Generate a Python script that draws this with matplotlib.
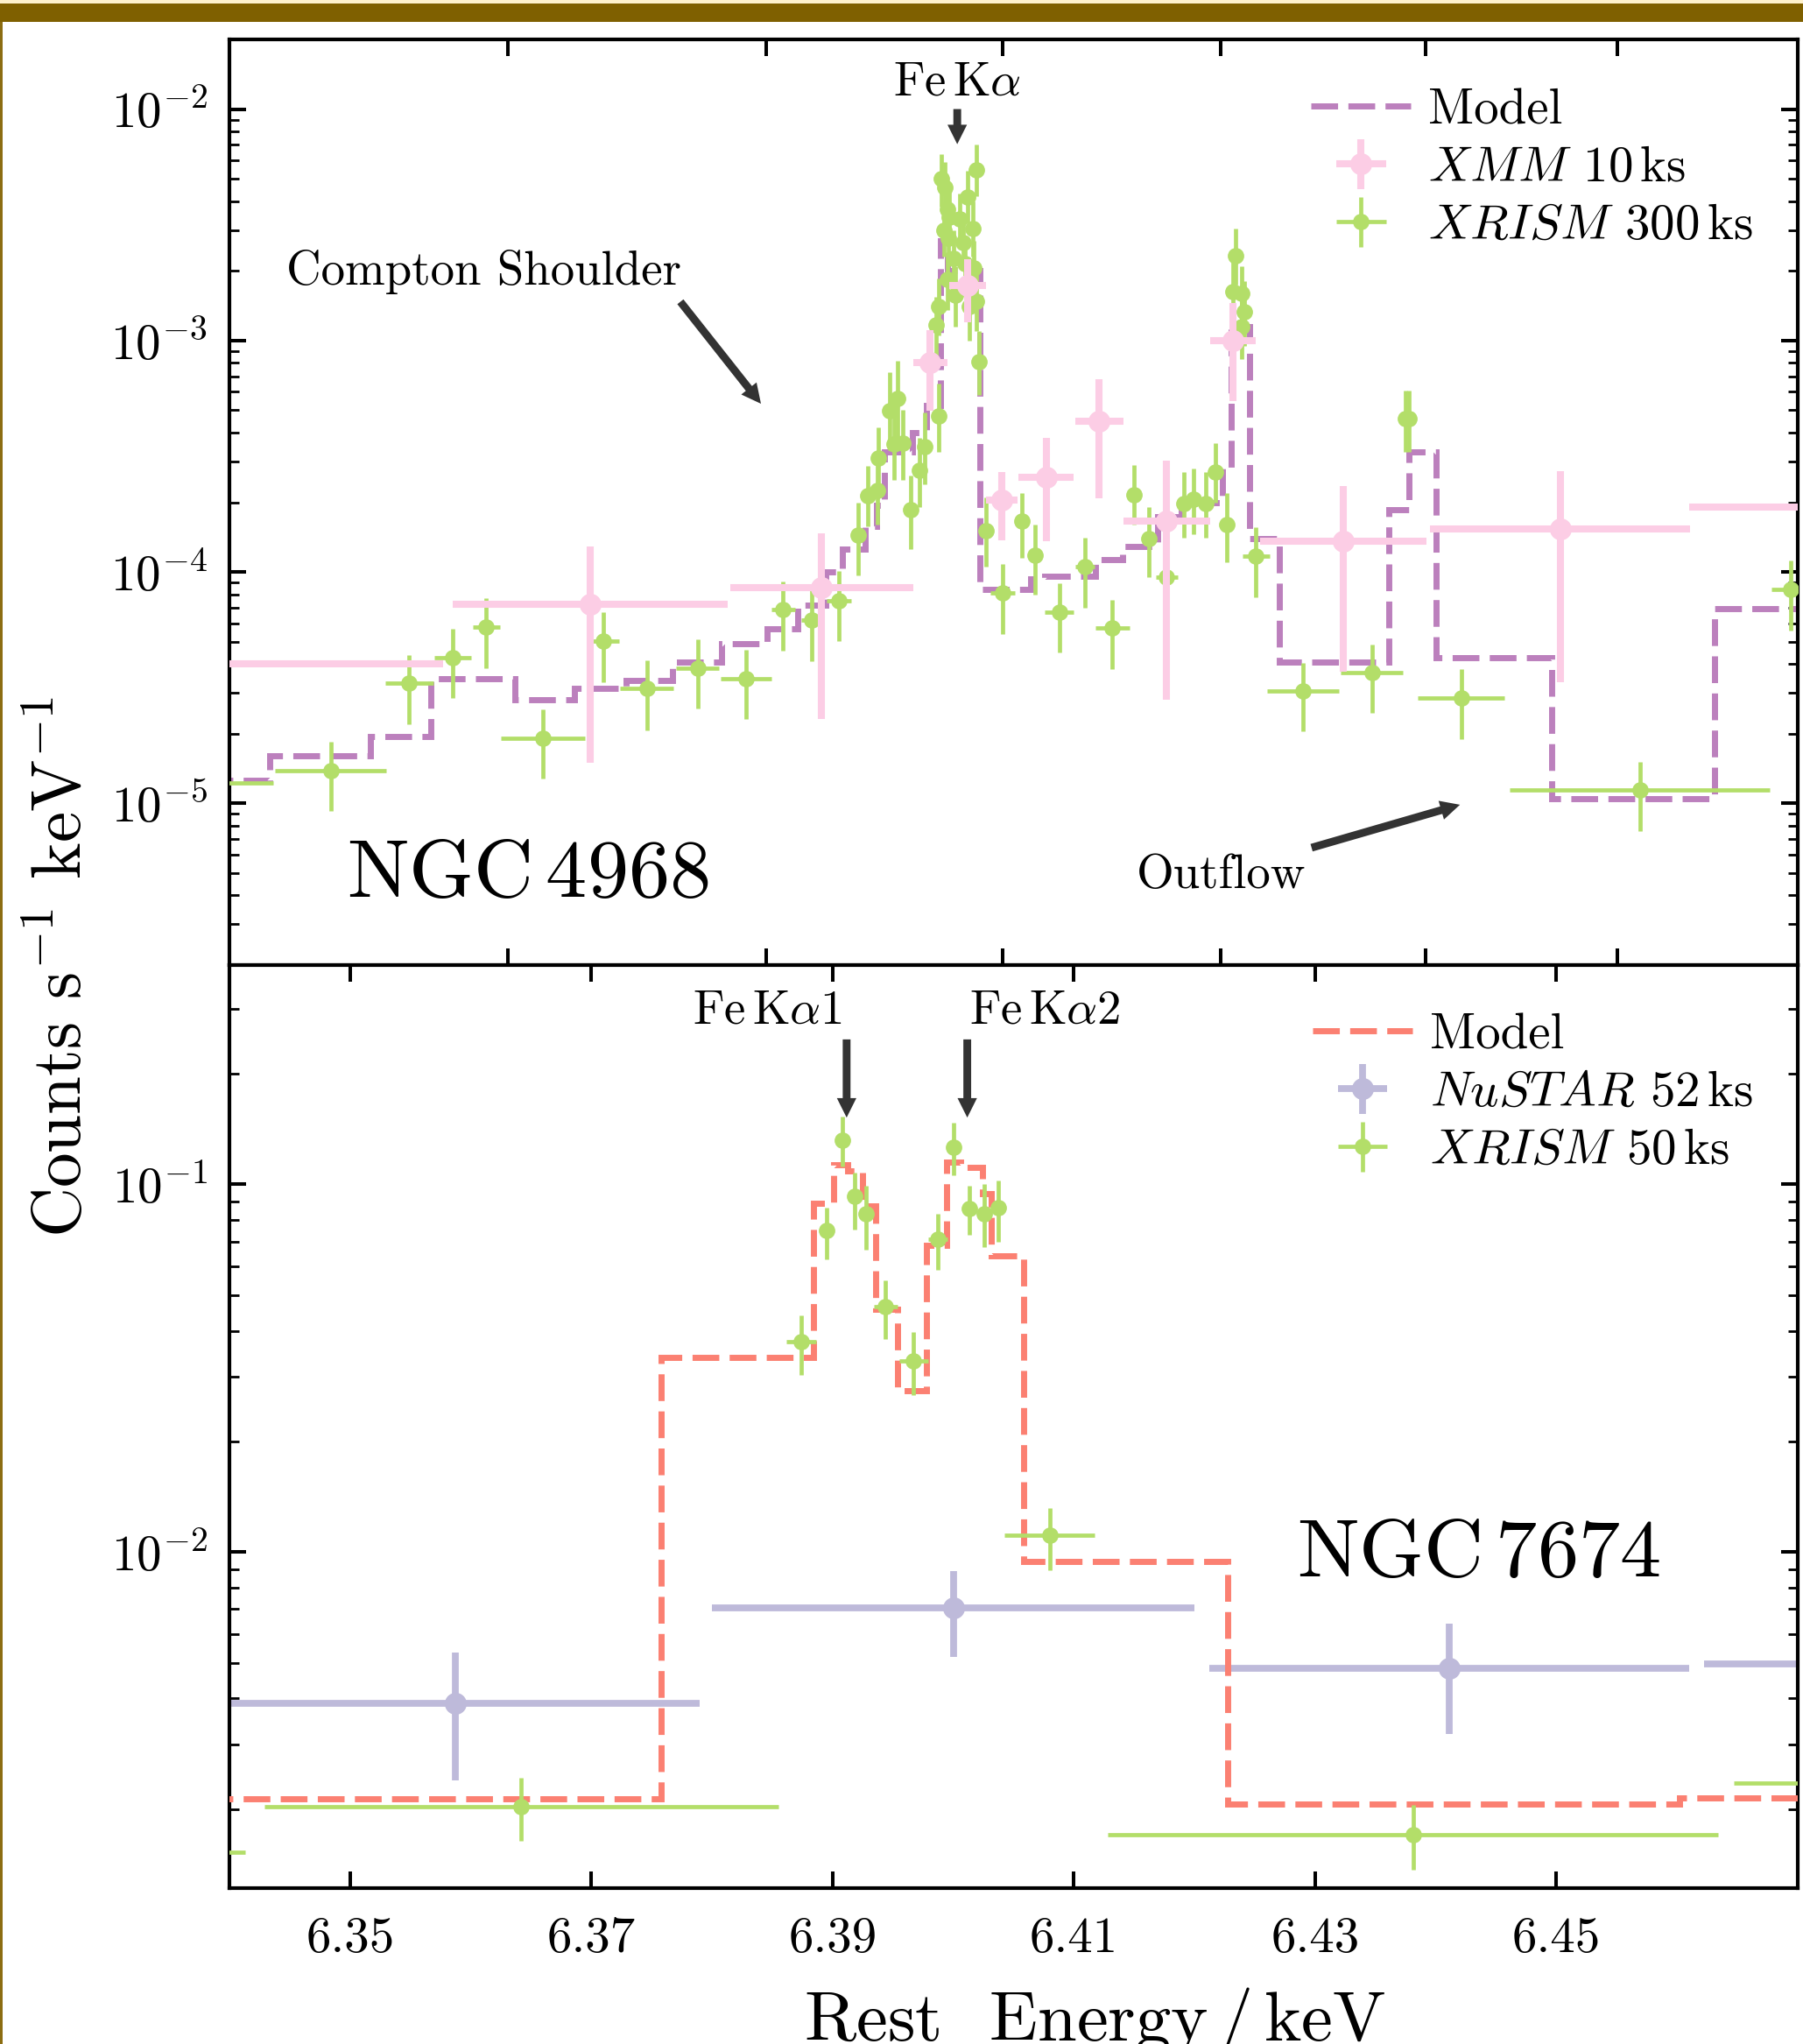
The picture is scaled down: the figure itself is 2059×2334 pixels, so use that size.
import numpy as np
import matplotlib
matplotlib.use("Agg")
import matplotlib.pyplot as plt
from matplotlib.patches import Rectangle, ArrowStyle
from matplotlib.lines import Line2D
from matplotlib.ticker import FixedLocator, FuncFormatter, NullFormatter, NullLocator, LogLocator

plt.rcParams['font.family'] = 'cmr10'
plt.rcParams['mathtext.fontset'] = 'cm'
plt.rcParams['axes.unicode_minus'] = False
plt.rcParams['axes.formatter.use_mathtext'] = True

# ---------------- data: NGC 4968 (top) ----------------
xmm_e = [6.3382, 6.3699, 6.3891, 6.3981, 6.4012, 6.4040, 6.4077, 6.4121, 6.4177, 6.4232, 6.4323, 6.4503, 6.4755]
xmm_de = [0.0195, 0.0114, 0.0076, 0.0014, 0.0015, 0.0013, 0.0023, 0.0020, 0.0036, 0.0019, 0.0069, 0.0108, 0.0145]
xmm_y = [4.0e-5, 7.24e-5, 8.55e-5, 8.0e-4, 1.73e-3, 2.04e-4, 2.57e-4, 4.46e-4, 1.66e-4, 1.0e-3, 1.36e-4, 1.53e-4, 1.91e-4]
xmm_lo = [2.0e-5, 1.5e-5, 2.32e-5, 4.96e-4, 1.2e-3, 1.37e-4, 1.36e-4, 2.08e-4, 2.8e-5, 5.47e-4, 3.72e-5, 3.33e-5, 8.0e-5]
xmm_hi = [6.5e-5, 1.29e-4, 1.47e-4, 1.11e-3, 2.25e-3, 2.71e-4, 3.81e-4, 6.78e-4, 3.03e-4, 1.45e-3, 2.34e-4, 2.73e-4, 3.0e-4]

xr4_e = [6.3390, 6.3484, 6.3549, 6.3585, 6.3613, 6.3660, 6.3710, 6.3746, 6.3788, 6.3828,
         6.3859, 6.3883, 6.3905, 6.3921, 6.3929, 6.3937, 6.3938, 6.3947, 6.3951, 6.3954,
         6.3958, 6.3965, 6.3972, 6.3976, 6.3988, 6.3986, 6.3988, 6.3990, 6.3993, 6.3995,
         6.3992, 6.3996, 6.3997, 6.4000, 6.3995, 6.4002, 6.4005, 6.4008, 6.4012, 6.4010,
         6.4013, 6.4016, 6.4017, 6.4019, 6.4019, 6.4021, 6.4027, 6.4041, 6.4057, 6.4068,
         6.4088, 6.4109, 6.4132, 6.4150, 6.4162, 6.4177, 6.4191, 6.4199, 6.4209, 6.4217,
         6.4227, 6.4232, 6.4234, 6.4239, 6.4239, 6.4241, 6.4251, 6.4290, 6.4347, 6.4375,
         6.4378, 6.4421, 6.4569, 6.4694]
xr4_de = [0.0046, 0.0046, 0.0020, 0.0015, 0.0011, 0.0035, 0.0013, 0.0022, 0.0018, 0.0021,
          0.0010, 0.0009, 0.0010, 0.0006, 0.0004, 0.0003, 0.0003, 0.0003, 0.0003, 0.0003,
          0.0003, 0.0003, 0.0003, 0.0003, 0.0003, 0.0002, 0.0002, 0.0002, 0.0002, 0.0002,
          0.0002, 0.0002, 0.0002, 0.0002, 0.0002, 0.0002, 0.0002, 0.0002, 0.0002, 0.0002,
          0.0002, 0.0002, 0.0002, 0.0002, 0.0002, 0.0002, 0.0004, 0.0010, 0.0005, 0.0005,
          0.0012, 0.0008, 0.0014, 0.0005, 0.0006, 0.0009, 0.0004, 0.0004, 0.0004, 0.0003,
          0.0004, 0.0002, 0.0002, 0.0002, 0.0002, 0.0002, 0.0011, 0.0030, 0.0026, 0.0003,
          0.0003, 0.0036, 0.0108, 0.0016]
xr4_y = [1.23e-5, 1.39e-5, 3.32e-5, 4.26e-5, 5.79e-5, 1.91e-5, 5.01e-5, 3.13e-5, 3.84e-5, 3.47e-5,
         6.87e-5, 6.18e-5, 7.52e-5, 1.44e-4, 2.14e-4, 2.25e-4, 3.11e-4, 4.96e-4, 3.56e-4, 5.6e-4,
         3.6e-4, 1.85e-4, 2.76e-4, 3.49e-4, 4.72e-4, 1.17e-3, 1.40e-3, 5.0e-3, 4.6e-3, 3.7e-3,
         3.0e-3, 2.77e-3, 3.4e-3, 2.27e-3, 1.83e-3, 1.57e-3, 3.36e-3, 2.65e-3, 4.17e-3, 2.15e-3,
         1.40e-3, 3.05e-3, 2.05e-3, 5.47e-3, 1.48e-3, 8.1e-4, 1.51e-4, 8.15e-5, 1.66e-4, 1.18e-4,
         6.7e-5, 1.05e-4, 5.71e-5, 2.16e-4, 1.39e-4, 9.53e-5, 1.97e-4, 2.06e-4, 1.97e-4, 2.71e-4,
         1.6e-4, 1.63e-3, 2.32e-3, 1.6e-3, 1.15e-3, 1.33e-3, 1.17e-4, 3.05e-5, 3.66e-5, 4.6e-4,
         4.59e-4, 2.85e-5, 1.14e-5, 8.4e-5]
xr4_lo = [8.0e-6, 9.3e-6, 2.19e-5, 2.85e-5, 3.85e-5, 1.28e-5, 3.33e-5, 2.07e-5, 2.56e-5, 2.31e-5,
          4.55e-5, 4.12e-5, 5.03e-5, 9.66e-5, 1.57e-4, 1.6e-4, 2.2e-4, 3.35e-4, 2.5e-4, 3.8e-4,
          2.5e-4, 1.25e-4, 1.9e-4, 2.4e-4, 3.3e-4, 8.5e-4, 1.05e-3, 3.8e-3, 3.5e-3, 2.8e-3,
          2.3e-3, 2.1e-3, 2.6e-3, 1.7e-3, 1.35e-3, 1.15e-3, 2.6e-3, 2.0e-3, 3.2e-3, 1.6e-3,
          1.0e-3, 2.3e-3, 1.5e-3, 4.2e-3, 1.1e-3, 5.8e-4, 1.05e-4, 5.4e-5, 1.15e-4, 8.0e-5,
          4.5e-5, 7.0e-5, 3.8e-5, 1.6e-4, 9.5e-5, 6.3e-5, 1.4e-4, 1.45e-4, 1.4e-4, 2.0e-4,
          1.1e-4, 1.2e-3, 1.75e-3, 1.15e-3, 8.3e-4, 9.5e-4, 7.8e-5, 2.05e-5, 2.45e-5, 3.3e-4,
          3.3e-4, 1.9e-5, 7.6e-6, 5.6e-5]
xr4_hi = [1.65e-5, 1.85e-5, 4.39e-5, 5.66e-5, 7.69e-5, 2.54e-5, 6.68e-5, 4.14e-5, 5.11e-5, 4.6e-5,
          9.08e-5, 8.3e-5, 1.01e-4, 1.99e-4, 2.88e-4, 3.0e-4, 4.2e-4, 7.3e-4, 4.9e-4, 8.2e-4,
          5.0e-4, 2.6e-4, 3.8e-4, 4.9e-4, 6.5e-4, 1.55e-3, 1.85e-3, 6.4e-3, 5.9e-3, 4.8e-3,
          3.9e-3, 3.6e-3, 4.4e-3, 3.0e-3, 2.4e-3, 2.1e-3, 4.3e-3, 3.5e-3, 5.4e-3, 2.8e-3,
          1.9e-3, 4.0e-3, 2.7e-3, 7.0e-3, 2.0e-3, 1.1e-3, 2.1e-4, 1.08e-4, 2.2e-4, 1.6e-4,
          8.9e-5, 1.4e-4, 7.6e-5, 2.9e-4, 1.9e-4, 1.27e-4, 2.7e-4, 2.8e-4, 2.7e-4, 3.6e-4,
          2.2e-4, 2.2e-3, 3.05e-3, 2.1e-3, 1.55e-3, 1.8e-3, 1.56e-4, 4.05e-5, 4.85e-5, 6.1e-4,
          6.1e-4, 3.8e-5, 1.51e-5, 1.12e-4]

mod4_edges = [6.335, 6.34336, 6.35170, 6.35668, 6.36365, 6.36859, 6.37291, 6.37673, 6.38079, 6.38457,
              6.38711, 6.38943, 6.39081, 6.39270, 6.39365, 6.39430, 6.39662, 6.39779, 6.39895, 6.39953,
              6.40222, 6.40643, 6.40759, 6.41180, 6.41405, 6.41696, 6.41892, 6.42233, 6.42306, 6.42458,
              6.42702, 6.43610, 6.43780, 6.44002, 6.44957, 6.46307, 6.48]
mod4_vals = [1.26e-5, 1.61e-5, 1.95e-5, 3.45e-5, 2.81e-5, 3.13e-5, 3.40e-5, 4.08e-5, 4.9e-5, 5.66e-5,
             7.2e-5, 1.0e-4, 1.26e-4, 1.57e-4, 1.94e-4, 3.3e-4, 4.0e-4, 5.26e-4, 2.7e-3, 2.0e-3,
             8.4e-5, 9.3e-5, 9.6e-5, 1.13e-4, 1.29e-4, 1.73e-4, 2.0e-4, 2.83e-4, 1.15e-3, 1.39e-4,
             4.07e-5, 1.86e-4, 3.3e-4, 4.26e-5, 1.05e-5, 6.93e-5]

# ---------------- data: NGC 7674 (bottom) ----------------
nu_e = [6.3587, 6.4000, 6.4411, 6.4822]
nu_de = [0.0203, 0.0200, 0.0199, 0.0200]
nu_y = [3.87e-3, 7.04e-3, 4.82e-3, 4.96e-3]
nu_lo = [2.40e-3, 5.18e-3, 3.21e-3, 3.3e-3]
nu_hi = [5.33e-3, 8.9e-3, 6.38e-3, 6.6e-3]

xr7_e = [6.3385, 6.3642, 6.3874, 6.3895, 6.3908, 6.3918, 6.3928, 6.3944, 6.3967, 6.3987,
         6.4000, 6.4013, 6.4026, 6.4037, 6.4080, 6.4381, 6.4715]
xr7_de = [0.0028, 0.0213, 0.0012, 0.0004, 0.0004, 0.0004, 0.0004, 0.0010, 0.0012, 0.0008,
          0.0004, 0.0004, 0.0004, 0.0004, 0.00375, 0.0253, 0.0068]
xr7_y = [1.53e-3, 2.03e-3, 3.73e-2, 7.5e-2, 0.132, 9.29e-2, 8.3e-2, 4.65e-2, 3.32e-2, 7.1e-2,
         0.126, 8.6e-2, 8.33e-2, 8.65e-2, 1.11e-2, 1.70e-3, 2.36e-3]
xr7_lo = [1.2e-3, 1.64e-3, 3.03e-2, 6.25e-2, 0.112, 7.55e-2, 6.64e-2, 3.79e-2, 2.67e-2, 5.85e-2,
          0.106, 7.3e-2, 6.76e-2, 6.98e-2, 8.93e-3, 1.37e-3, 1.9e-3]
xr7_hi = [1.9e-3, 2.44e-3, 4.4e-2, 8.65e-2, 0.153, 0.1077, 9.9e-2, 5.5e-2, 3.97e-2, 8.3e-2,
          0.147, 9.94e-2, 0.1, 0.1026, 1.32e-2, 2.05e-3, 2.8e-3]

mod7_edges = [6.335, 6.37578, 6.38845, 6.39012, 6.39125, 6.39248, 6.39357, 6.39539, 6.39778, 6.39943,
              6.40058, 6.40243, 6.40316, 6.40582, 6.42277, 6.46021, 6.48]
mod7_vals = [2.13e-3, 3.38e-2, 8.87e-2, 0.113, 0.109, 8.75e-2, 4.57e-2, 2.75e-2, 6.83e-2, 0.115,
             0.111, 9.44e-2, 6.4e-2, 9.44e-3, 2.06e-3, 2.15e-3]

xticks_bottom = [6.35, 6.37, 6.39, 6.41, 6.43, 6.45]
xticks_top = [6.36307, 6.38450, 6.40410, 6.42218, 6.43918, 6.45508]

# colours (Set3)
c_purple = '#bc80bd'
c_pink = '#fccde5'
c_green = '#b3de69'
c_lav = '#bebada'
c_salmon = '#fb8072'
c_arrow = '#333333'

W, H = 2059, 2334
fig = plt.figure(figsize=(W / 100, H / 100), dpi=100)

def fx(px):
    return px / W

def fy(py):
    return 1 - py / H

ax1 = fig.add_axes([fx(262), fy(1102), fx(2053) - fx(262), fy(45) - fy(1102)])
ax2 = fig.add_axes([fx(262), fy(2156), fx(2053) - fx(262), fy(1102) - fy(2156)])

def yerr(y, lo, hi):
    y = np.asarray(y); lo = np.asarray(lo); hi = np.asarray(hi)
    return [y - lo, hi - y]

arrow_style = ArrowStyle.Simple(head_length=0.5, head_width=0.5, tail_width=0.2)

def arrow(ax, tail, head):
    ax.annotate('', xy=head, xytext=tail,
                arrowprops=dict(arrowstyle=arrow_style, fc=c_arrow, ec='none', lw=0,
                                mutation_scale=32, shrinkA=0, shrinkB=0), zorder=6)

FS_TICK = 41
FS_TXT = 39.5
FS_LEG = 41
FS_BIG = 68
MODEL_LS = (0, (4.4, 1.7))
MODEL_LW = 5.0

# ---- top panel ----
ax1.stairs(mod4_vals, mod4_edges, baseline=None, color=c_purple, lw=MODEL_LW, ls=MODEL_LS, zorder=2)
e1 = ax1.errorbar(xr4_e, xr4_y, xerr=xr4_de, yerr=yerr(xr4_y, xr4_lo, xr4_hi), fmt='o', ms=12.5,
                  color=c_green, mec=c_green, elinewidth=3.4, capsize=0, zorder=3)
e2 = ax1.errorbar(xmm_e, xmm_y, xerr=xmm_de, yerr=yerr(xmm_y, xmm_lo, xmm_hi), fmt='o', ms=17,
                  color=c_pink, mec=c_pink, elinewidth=5.8, capsize=0, zorder=4)
h_mod1 = Line2D([], [], color=c_purple, lw=MODEL_LW, ls=MODEL_LS)
ax1.legend([h_mod1, e2, e1], ['Model', r'$XMM$ 10$\,$ks', r'$XRISM$ 300$\,$ks'],
           loc='upper right', bbox_to_anchor=(fx(2002), fy(101)), bbox_transform=fig.transFigure,
           frameon=False, borderpad=0, borderaxespad=0, handlelength=2.0, handletextpad=0.35,
           labelspacing=0.26, fontsize=FS_LEG)

ax1.set_yscale('log')
ax1.set_xlim(6.34, 6.47)
ax1.set_ylim(2e-6, 2e-2)
ax1.xaxis.set_major_locator(FixedLocator(xticks_top))
ax1.xaxis.set_major_formatter(NullFormatter())
ax1.xaxis.set_minor_locator(NullLocator())

ax1.text(6.40033, 1.15e-2, r'Fe$\,$K$\alpha$', ha='center', va='baseline', fontsize=FS_TXT)
arrow(ax1, (6.40033, 1.0e-2), (6.40033, 7.05e-3))
ax1.text(6.3447, 1.75e-3, 'Compton Shoulder', ha='left', va='baseline', fontsize=FS_TXT)
arrow(ax1, (6.37738, 1.47e-3), (6.38406, 5.33e-4))
ax1.text(6.41521, 4.31e-6, 'Outflow', ha='left', va='baseline', fontsize=FS_TXT)
arrow(ax1, (6.4297, 6.43e-6), (6.4420, 9.86e-6))
ax1.text(6.3497, 3.93e-6, r'NGC$\,$4968', ha='left', va='baseline', fontsize=FS_BIG)

# ---- bottom panel ----
e3 = ax2.errorbar(nu_e, nu_y, xerr=nu_de, yerr=yerr(nu_y, nu_lo, nu_hi), fmt='o', ms=17,
                  color=c_lav, mec=c_lav, elinewidth=5.6, capsize=0, zorder=2)
ax2.stairs(mod7_vals, mod7_edges, baseline=None, color=c_salmon, lw=MODEL_LW, ls=MODEL_LS, zorder=3)
e4 = ax2.errorbar(xr7_e, xr7_y, xerr=xr7_de, yerr=yerr(xr7_y, xr7_lo, xr7_hi), fmt='o', ms=12.5,
                  color=c_green, mec=c_green, elinewidth=3.4, capsize=0, zorder=4)
h_mod2 = Line2D([], [], color=c_salmon, lw=MODEL_LW, ls=MODEL_LS)
ax2.legend([h_mod2, e3, e4], ['Model', r'$NuSTAR$ 52$\,$ks', r'$XRISM$ 50$\,$ks'],
           loc='upper right', bbox_to_anchor=(fx(2002), fy(1157)), bbox_transform=fig.transFigure,
           frameon=False, borderpad=0, borderaxespad=0, handlelength=2.0, handletextpad=0.35,
           labelspacing=0.26, fontsize=FS_LEG)

ax2.set_yscale('log')
ax2.set_xlim(6.34, 6.47)
ax2.set_ylim(1.22e-3, 0.395)
ax2.xaxis.set_major_locator(FixedLocator(xticks_bottom))
ax2.xaxis.set_major_formatter(FuncFormatter(lambda v, p: '%.2f' % v))
ax2.xaxis.set_minor_locator(NullLocator())

ax2.text(6.39081, 0.274, r'Fe$\,$K$\alpha$1', ha='right', va='baseline', fontsize=FS_TXT)
ax2.text(6.40132, 0.274, r'Fe$\,$K$\alpha$2', ha='left', va='baseline', fontsize=FS_TXT)
arrow(ax2, (6.39116, 0.248), (6.39116, 0.152))
arrow(ax2, (6.40116, 0.248), (6.40116, 0.152))
ax2.text(6.4285, 8.6e-3, r'NGC$\,$7674', ha='left', va='baseline', fontsize=FS_BIG)

for ax in (ax1, ax2):
    ax.yaxis.set_major_formatter(FuncFormatter(lambda v, p: r'$10^{%d}$' % int(round(np.log10(v)))))
    ax.yaxis.set_minor_locator(LogLocator(base=10, subs=np.arange(2, 10)))
    ax.yaxis.set_minor_formatter(NullFormatter())
    ax.tick_params(which='both', direction='in', top=True, right=True)
    ax.tick_params(which='major', length=14, width=2.9, labelsize=FS_TICK, pad=18)
    ax.tick_params(which='minor', length=8, width=2.0)
    for s in ax.spines.values():
        s.set_linewidth(3.0)
ax2.tick_params(axis='x', which='major', pad=24)

fig.text(fx(72), fy(1104), r'Counts s$^{-1}$ keV$^{-1}$', rotation=90, ha='center', va='center', fontsize=57)
fig.text(fx(1250), fy(2330), r'Rest  Energy$\,$/$\,$keV', ha='center', va='baseline', fontsize=58)

# slide frame
fig.patches.append(Rectangle((0, fy(25)), 1, fy(4) - fy(25), transform=fig.transFigure,
                             facecolor='#7F6000', edgecolor='none', zorder=10))
fig.patches.append(Rectangle((0, fy(4)), 1, 1 - fy(4), transform=fig.transFigure,
                             facecolor='#FFF2CC', edgecolor='none', zorder=10))
fig.patches.append(Rectangle((0, 0), fx(3), fy(25), transform=fig.transFigure,
                             facecolor='#8C6D12', edgecolor='none', zorder=10))

fig.savefig('out.png', dpi=100)
